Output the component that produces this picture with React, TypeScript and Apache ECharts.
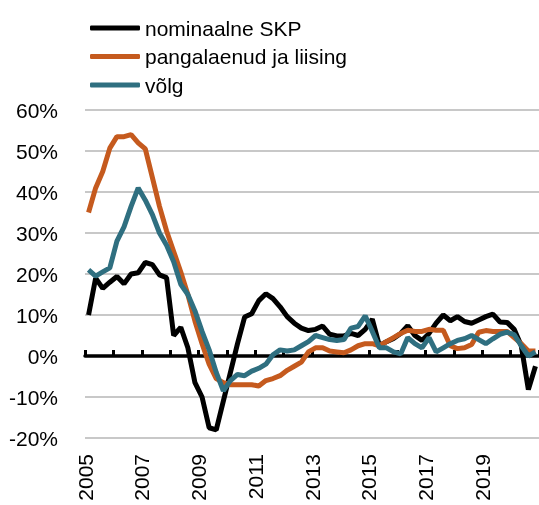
import React, { useEffect, useRef } from "react";
import * as echarts from "echarts";

// Quarterly categories 2005Q1 … 2020Q4
const years = [2005, 2006, 2007, 2008, 2009, 2010, 2011, 2012, 2013, 2014, 2015, 2016, 2017, 2018, 2019, 2020];
const quarters: string[] = [];
years.forEach((y) => ["Q1", "Q2", "Q3", "Q4"].forEach((q) => quarters.push(y + q)));

const yearTickLabels = ["2005", "2007", "2009", "2011", "2013", "2015", "2017", "2019"];

const seriesNames = ["nominaalne SKP", "pangalaenud ja liising", "võlg"];

// nominaalne SKP (y/y %)
const gdp = [
  10, 19, 16.5, 18, 19.4, 17.6, 20, 20.3, 22.8, 22.3, 19.8, 19.1,
  5, 7, 2, -6.5, -10, -17.5, -18, -11, -4, 3, 9.5, 10.3,
  13.5, 15.2, 14, 12, 9.6, 8, 6.8, 6.2, 6.5, 7.3, 5.3, 4.9,
  4.9, 5.5, 5, 6.5, 9, 2.5, 3.5, 4.3, 5.5, 7.4, 5, 3.8,
  5.5, 8, 10, 8.6, 9.6, 8.4, 8, 8.8, 9.6, 10.2, 8.3, 8.2,
  6.5, 2.5, -8.2, -2.5,
];

// pangalaenud ja liising
const loans = [
  35, 41, 45, 50.7, 53.5, 53.5, 54, 52, 50.5, 43.5, 36.5, 30.5,
  25.5, 20.5, 15, 8.5, 3, -2, -5.5, -6.5, -7, -7, -7, -7,
  -7.3, -6, -5.5, -4.8, -3.5, -2.5, -1.5, 1, 2, 2, 1.2, 1,
  0.8, 1.5, 2.5, 3, 3, 2.5, 3.5, 4.5, 5.5, 6.3, 6, 6,
  6.5, 6.3, 6.3, 2.5, 1.8, 2, 2.8, 5.8, 6.2, 6, 6, 6,
  4.5, 3, 1.2, 1.2,
];

// võlg
const debt = [
  21, 19.5, 20.5, 21.5, 28, 31.5, 36.5, 41, 38, 34.5, 30, 27,
  23, 17.5, 15, 11, 6, 1.5, -4, -8.5, -6, -4.5, -4.8, -3.7,
  -3, -2, 0.3, 1.5, 1.2, 1.5, 2.5, 3.5, 5, 4.5, 4, 3.8,
  4, 6.8, 7.2, 9.8, 6, 2, 2, 1, 0.5, 4.5, 3, 2,
  4.5, 1, 2, 3, 3.8, 4.2, 5, 4, 3, 4.2, 5.3, 5.8,
  5.2, 2.5, 0, 1,
];

const colors = ["#000000", "#C55A1E", "#2F6F80"];
const FONT = "'Liberation Sans', Arial, sans-serif";

export default function App() {
  const ref = useRef<HTMLDivElement>(null);
  useEffect(() => {
    if (!ref.current) return;
    const chart = echarts.init(ref.current, undefined, { renderer: "svg" });
    chart.setOption({
      animation: false,
      color: colors,
      textStyle: { fontFamily: FONT },
      legend: {
        orient: "vertical",
        left: 85,
        top: 11,
        icon: "roundRect",
        itemWidth: 50,
        itemHeight: 5,
        itemGap: 4.5,
        itemTextGap: 5,
        textStyle: { fontFamily: FONT, fontSize: 21, color: "#000", lineHeight: 24 },
        data: seriesNames,
      },
      grid: { left: 85, right: 0, top: 110, bottom: 67, containLabel: false },
      xAxis: [
        {
          type: "category",
          data: quarters,
          boundaryGap: true,
          position: "bottom",
          axisLine: { show: true, onZero: true, lineStyle: { color: "#000", width: 3.5 } },
          axisTick: { show: true, inside: true, length: 6, interval: 3, lineStyle: { color: "#000", width: 3 } },
          axisLabel: { show: false },
          splitLine: { show: false },
        },
        {
          type: "value",
          min: 0,
          max: 64,
          interval: 8,
          position: "bottom",
          axisLine: { show: false, onZero: false },
          axisTick: { show: false },
          splitLine: { show: false },
          axisLabel: {
            show: true,
            rotate: 90,
            margin: 16,
            fontFamily: FONT,
            fontSize: 21,
            color: "#000",
            showMaxLabel: false,
            formatter: (v: number) => yearTickLabels[Math.round(v / 8)] ?? "",
          },
        },
      ],
      yAxis: {
        type: "value",
        min: -20,
        max: 60,
        interval: 10,
        axisLine: { show: false },
        axisTick: { show: false },
        axisLabel: { formatter: "{value}%", fontFamily: FONT, fontSize: 21, color: "#000", margin: 27 },
        splitLine: { show: true, lineStyle: { color: "#C8C8C8", width: 2 } },
      },
      series: [
        { name: seriesNames[0], type: "line", data: gdp, xAxisIndex: 0, symbol: "none", lineStyle: { width: 5, color: colors[0] } },
        { name: seriesNames[1], type: "line", data: loans, xAxisIndex: 0, symbol: "none", lineStyle: { width: 5, color: colors[1] } },
        { name: seriesNames[2], type: "line", data: debt, xAxisIndex: 0, symbol: "none", lineStyle: { width: 5, color: colors[2] } },
      ],
    });
    return () => chart.dispose();
  }, []);
  return <div ref={ref} style={{ position: "fixed", left: 0, top: 0, width: 539, height: 505 }} />;
}
